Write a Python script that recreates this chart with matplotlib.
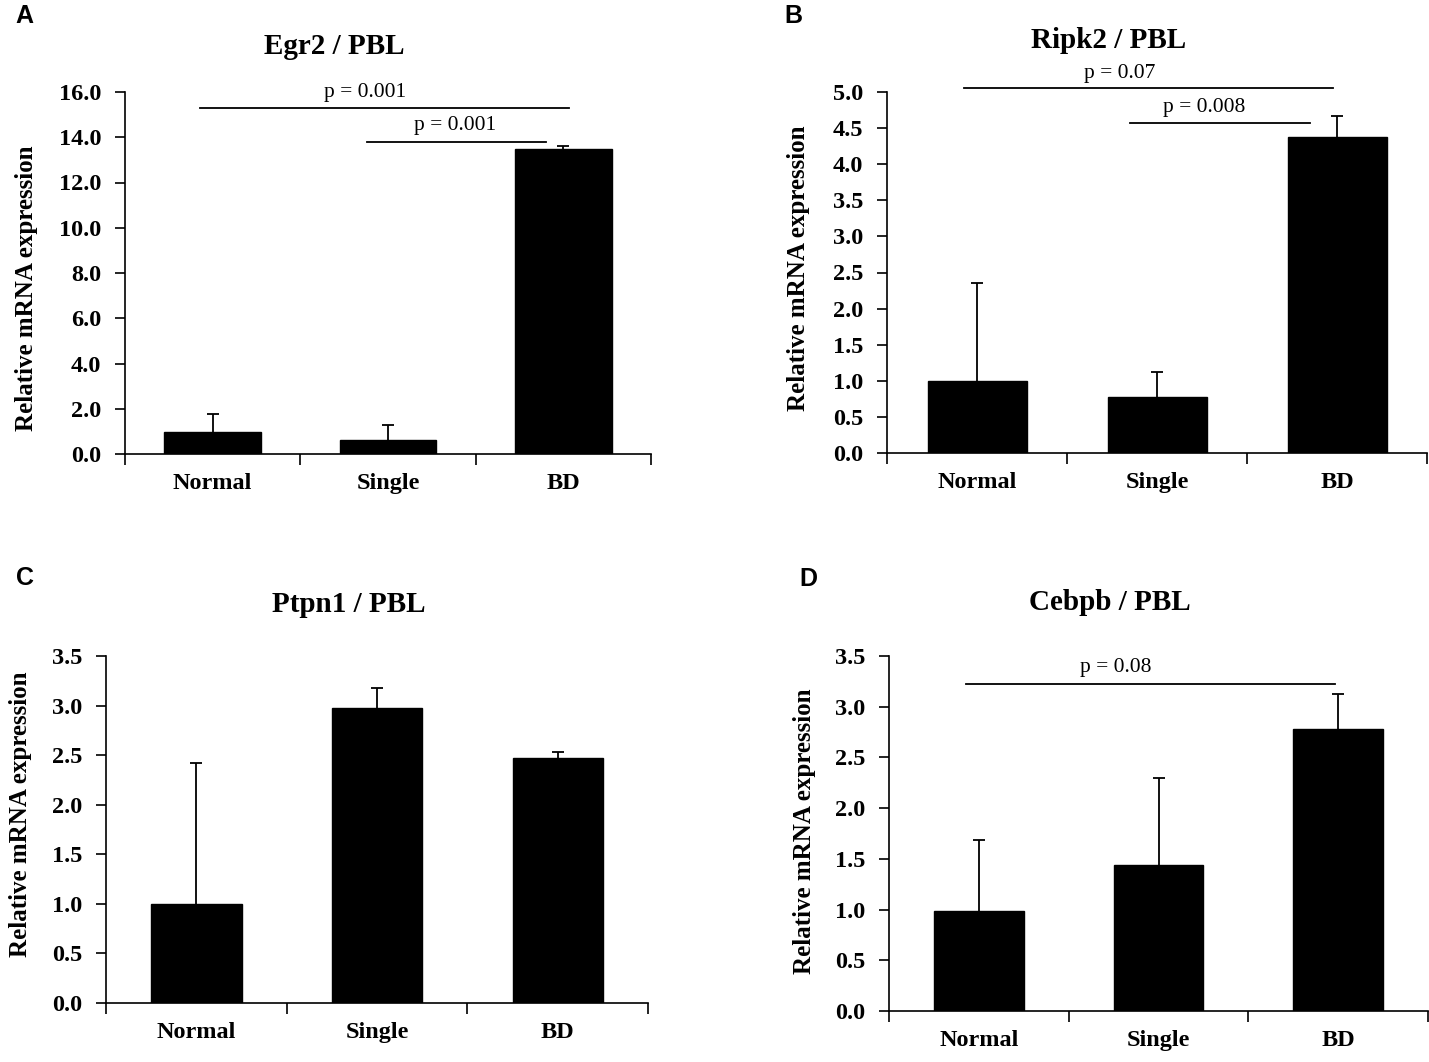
import matplotlib
matplotlib.use('Agg')
import matplotlib.pyplot as plt
from matplotlib.ticker import FixedLocator, FormatStrFormatter

W, H = 1429, 1062

groups = ['Normal', 'Single', 'BD']

# means and upper error (top of error bar) for each panel
egr2_mean = [0.97, 0.61, 13.48]
egr2_top = [1.79, 1.30, 13.61]
ripk2_mean = [1.00, 0.78, 4.38]
ripk2_top = [2.35, 1.12, 4.67]
ptpn1_mean = [1.00, 2.98, 2.47]
ptpn1_top = [2.42, 3.18, 2.53]
cebpb_mean = [0.99, 1.44, 2.78]
cebpb_top = [1.69, 2.30, 3.13]

titles = ['Egr2 / PBL', 'Ripk2 / PBL', 'Ptpn1 / PBL', 'Cebpb / PBL']
letters = ['A', 'B', 'C', 'D']

# significance brackets: (x start, x end, y line, text, text x, text y)
egr2_sig = [(-0.07, 2.03, 15.29, 'p = 0.001', 0.87, 15.77),
            (0.88, 1.90, 13.80, 'p = 0.001', 1.38, 14.32)]
ripk2_sig = [(-0.07, 1.98, 5.055, 'p = 0.07', 0.79, 5.19),
             (0.85, 1.85, 4.57, 'p = 0.008', 1.26, 4.72)]
ptpn1_sig = []
cebpb_sig = [(-0.07, 1.98, 3.22, 'p = 0.08', 0.76, 3.34)]


def px(x0, y0, x1, y1):
    return [x0 / W, 1 - y1 / H, (x1 - x0) / W, (y1 - y0) / H]


serif = 'Liberation Serif'
fig = plt.figure(figsize=(W / 100, H / 100), dpi=100)

panels = [
    (px(125, 92, 651, 454), egr2_mean, egr2_top, 16.0, 2.0, 0.55, egr2_sig),
    (px(887, 92, 1427, 453), ripk2_mean, ripk2_top, 5.0, 0.5, 0.55, ripk2_sig),
    (px(106, 656, 648, 1003), ptpn1_mean, ptpn1_top, 3.5, 0.5, 0.5, ptpn1_sig),
    (px(889, 656, 1428, 1011), cebpb_mean, cebpb_top, 3.5, 0.5, 0.5, cebpb_sig),
]

for rect, mean, top, ymax, step, bw, sig in panels:
    ax = fig.add_axes(rect)
    x = list(range(len(groups)))
    err = [t - m for t, m in zip(top, mean)]
    ax.bar(x, mean, width=bw, color='black', edgecolor='black', zorder=2)
    eb = ax.errorbar(x, mean, yerr=[[0] * len(err), err], fmt='none', ecolor='black',
                     elinewidth=1.3, capsize=4, capthick=1.3, zorder=1)
    # only the upper cap is drawn in the original
    eb[1][0].set_visible(False)
    ax.set_xlim(-0.5, 2.5)
    ax.set_ylim(0, ymax)
    n = int(round(ymax / step))
    ax.set_yticks([i * step for i in range(n + 1)])
    ax.yaxis.set_major_formatter(FormatStrFormatter('%.1f'))
    ax.set_xticks(x)
    ax.set_xticklabels(groups)
    ax.xaxis.set_minor_locator(FixedLocator([-0.5, 0.5, 1.5, 2.5]))
    ax.tick_params(axis='x', which='major', length=0, pad=14)
    ax.tick_params(axis='x', which='minor', length=8, width=1.2)
    ax.tick_params(axis='y', length=7, width=1.2, pad=10)
    for lab in ax.get_xticklabels():
        lab.set_fontfamily(serif)
        lab.set_fontweight('bold')
        lab.set_fontsize(17.5)
    for lab in ax.get_yticklabels():
        lab.set_fontfamily(serif)
        lab.set_fontweight('bold')
        lab.set_fontsize(17.5)
    for s in ['top', 'right']:
        ax.spines[s].set_visible(False)
    for s in ['left', 'bottom']:
        ax.spines[s].set_linewidth(1.2)
    for x0, x1, yl, txt, tx, ty in sig:
        ax.plot([x0, x1], [yl, yl], color='black', lw=1.3, clip_on=False)
        ax.text(tx, ty, txt, ha='center', va='baseline', fontsize=15.5,
                fontfamily=serif, clip_on=False)

# titles, y labels and panel letters placed in figure pixels
title_pos = [(334, 46), (1109, 41), (349, 604), (1110, 603)]
ylab_pos = [(27, 288), (799, 268), (21, 814), (804, 831)]
letter_pos = [(24, 16), (793, 16), (25, 578), (808, 579)]

for t, (tx, ty) in zip(titles, title_pos):
    fig.text(tx / W, 1 - ty / H, t, ha='center', va='center', fontsize=21,
             fontfamily=serif, fontweight='bold')
for (lx, ly) in ylab_pos:
    fig.text(lx / W, 1 - ly / H, 'Relative mRNA expression', rotation=90,
             ha='center', va='center', fontsize=18, fontfamily=serif,
             fontweight='bold')
for l, (lx, ly) in zip(letters, letter_pos):
    fig.text(lx / W, 1 - ly / H, l, ha='center', va='center', fontsize=18,
             fontfamily='Liberation Sans', fontweight='bold')

fig.savefig('out.png', dpi=100)
